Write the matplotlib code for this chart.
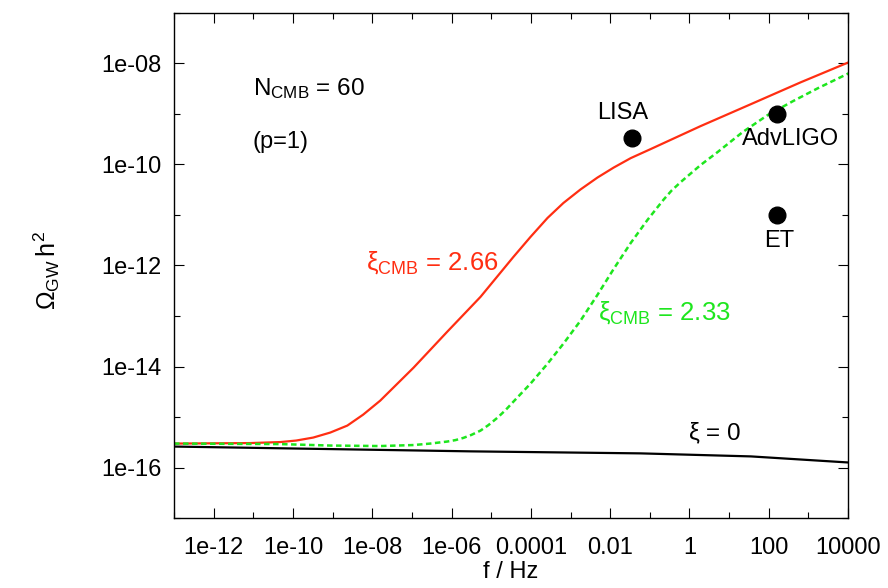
import numpy as np
import matplotlib
matplotlib.use("Agg")
import matplotlib.pyplot as plt
from matplotlib.ticker import FixedLocator, NullFormatter

plt.rcParams['font.family'] = ['Liberation Sans', 'DejaVu Sans']
plt.rcParams['mathtext.fontset'] = 'custom'
plt.rcParams['mathtext.rm'] = 'Liberation Sans'
plt.rcParams['mathtext.it'] = 'Liberation Sans'

# log10(f/Hz) and log10(Omega_GW h^2)
red_logf = [-13.00, -11.08, -10.32, -9.92, -9.49, -9.06, -8.63, -8.23, -7.80, -6.96, -6.11,
            -5.27, -4.44, -4.01, -3.58, -3.18, -2.75, -2.32, -1.91, -1.48, -0.98, 0.28,
            1.55, 2.81, 4.02]
red_logo = [-15.526, -15.516, -15.496, -15.466, -15.407, -15.308, -15.170, -14.953, -14.676,
            -14.024, -13.312, -12.621, -11.830, -11.435, -11.059, -10.763, -10.496, -10.259,
            -10.061, -9.874, -9.696, -9.241, -8.806, -8.372, -7.976]

green_logf = [-13.00, -10.32, -9.06, -7.80, -6.96, -6.54, -6.11, -5.90, -5.70, -5.50, -5.27,
              -5.07, -4.84, -4.64, -4.44, -4.01, -3.58, -3.18, -2.75, -2.32, -1.91, -1.48,
              -1.06, -0.85, -0.65, -0.45, -0.22, 0.03, 0.28, 0.71, 1.34, 1.97, 2.61, 3.24, 4.02]
green_logo = [-15.526, -15.536, -15.565, -15.575, -15.555, -15.526, -15.486, -15.457, -15.413,
              -15.354, -15.269, -15.160, -15.012, -14.864, -14.696, -14.340, -13.945, -13.549,
              -13.095, -12.581, -12.067, -11.553, -11.099, -10.891, -10.694, -10.516, -10.348,
              -10.180, -10.012, -9.755, -9.360, -9.024, -8.747, -8.490, -8.194]

black_logf = [-13.0, -5.52, -1.23, 1.55, 4.0]
black_logo = [-15.585, -15.68, -15.72, -15.78, -15.90]

detectors = ['LISA', 'AdvLIGO', 'ET']
det_f = [0.035, 165.0, 165.0]
det_omega = [3.3e-10, 1e-9, 1e-11]

xticks = [1e-12, 1e-10, 1e-8, 1e-6, 1e-4, 1e-2, 1, 1e2, 1e4]
xlabels = ['1e-12', '1e-10', '1e-08', '1e-06', '0.0001', '0.01', '1', '100', '10000']
yticks = [1e-16, 1e-14, 1e-12, 1e-10, 1e-8]
ylabels = ['1e-16', '1e-14', '1e-12', '1e-10', '1e-08']

RED = '#ff2e12'
GREEN = '#1ee61e'

fig = plt.figure(figsize=(8.88, 5.88), dpi=100)
ax = fig.add_axes([0.196, 0.119, 0.759, 0.859])

ax.plot(10**np.array(red_logf), 10**np.array(red_logo), color=RED, lw=1.6)
ax.plot(10**np.array(green_logf), 10**np.array(green_logo), color=GREEN, lw=1.8,
        dashes=(2.2, 1.4))
ax.plot(10**np.array(black_logf), 10**np.array(black_logo), color='black', lw=1.6)
ax.plot(det_f, det_omega, 'o', color='black', ms=12)

ax.set_xscale('log')
ax.set_yscale('log')
ax.set_xlim(1e-13, 1e4)
ax.set_ylim(1e-17, 1e-7)

ax.xaxis.set_major_locator(FixedLocator(xticks))
ax.set_xticklabels(xlabels)
ax.xaxis.set_minor_locator(FixedLocator([10.0**k for k in range(-13, 5, 2)]))
ax.xaxis.set_minor_formatter(NullFormatter())
ax.yaxis.set_major_locator(FixedLocator(yticks))
ax.set_yticklabels(ylabels)
ax.yaxis.set_minor_locator(FixedLocator([10.0**k for k in range(-17, -6, 2)]))
ax.yaxis.set_minor_formatter(NullFormatter())
ax.tick_params(which='both', direction='in', top=True, right=True, labelsize=17, width=0.8)
ax.tick_params(which='major', length=7)
ax.tick_params(which='minor', length=4)
ax.tick_params(axis='x', which='major', pad=14)
ax.tick_params(axis='y', which='major', pad=9)
for s in ax.spines.values():
    s.set_linewidth(1.0)

ax.set_xlabel('f / Hz', fontsize=17)
ax.xaxis.set_label_coords(0.5, -0.086)
ax.set_ylabel(r'$\Omega_{\rm GW}\,h^2$', fontsize=18)
ax.yaxis.set_label_coords(-0.166, 0.49)

tr = ax.transAxes
ax.text(0.117, 0.851, r'N$_{\rm CMB}$ = 60', transform=tr, fontsize=17.5, va='center')
ax.text(0.117, 0.745, '(p=1)', transform=tr, fontsize=17, va='center')
ax.text(0.285, 0.505, r'$\xi_{\rm CMB}$ = 2.66', transform=tr, fontsize=18.5, va='center',
        color=RED)
ax.text(0.629, 0.406, r'$\xi_{\rm CMB}$ = 2.33', transform=tr, fontsize=18.5, va='center',
        color=GREEN)
ax.text(0.763, 0.168, r'$\xi$ = 0', transform=tr, fontsize=17.5, va='center')
ax.text(0.666, 0.802, 'LISA', transform=tr, fontsize=17, ha='center', va='center')
ax.text(0.914, 0.750, 'AdvLIGO', transform=tr, fontsize=17, ha='center', va='center')
ax.text(0.898, 0.549, 'ET', transform=tr, fontsize=17, ha='center', va='center')

fig.savefig('out.png', dpi=100)
